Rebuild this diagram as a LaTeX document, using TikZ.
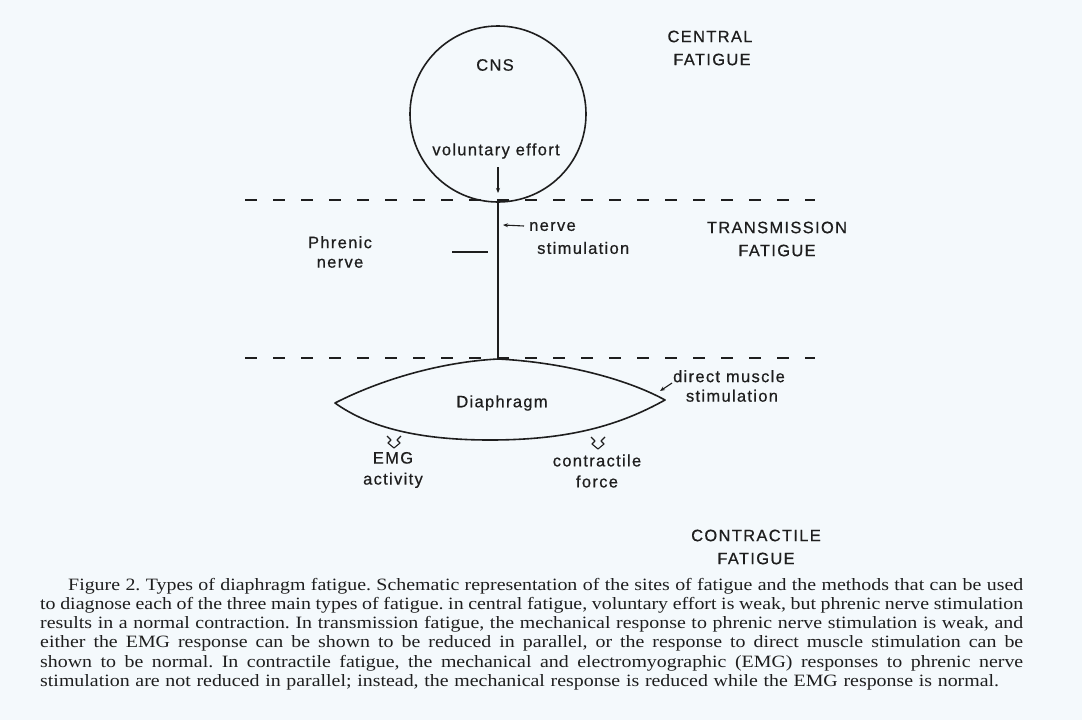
\documentclass[tikz,border=0pt]{standalone}
\usepackage{fontspec}
\setmainfont{Liberation Serif}[FakeStretch=1.15]
\newfontfamily\labfont{Liberation Sans}[LetterSpace=8,FakeBold=0.6]
\usetikzlibrary{arrows.meta}
\definecolor{paper}{HTML}{F4F9FC}
\definecolor{ink}{HTML}{1E1E1E}
\begin{document}
\begin{tikzpicture}[x=1pt,y=-1pt,
  lab/.style={font=\labfont\fontsize{16.5}{23}\selectfont, text=ink, align=center, inner sep=0pt},
  solidline/.style={draw=ink, line width=1.6pt},
  dashline/.style={draw=ink, line width=1.1pt, dash pattern=on 12pt off 16pt},
  smallarrow/.style={draw=ink, line width=1.1pt, -{Stealth[length=5pt,width=4pt]}},
  leader/.style={draw=ink, line width=1.1pt},
  hollow/.style={draw=ink, line width=1.1pt, line join=round}
]
\useasboundingbox (0,0) rectangle (1082,720);
\fill[paper] (0,0) rectangle (1082,720);

% CNS circle
\node[solidline, circle, minimum size=176pt, inner sep=0pt] (cns) at (498,114) {};
\node[lab] (cnslab) at (495,65) {CNS};
\node[lab] (vol) at (496,151) {voluntary effort};
\coordinate (volA) at (498,167);
\coordinate (volB) at (498,193);
\draw[smallarrow] (volA) -- (volB);

% dashed level lines
\coordinate (d1a) at (245,200); \coordinate (d1b) at (815,200);
\coordinate (d2a) at (245,358); \coordinate (d2b) at (815,358);
\draw[dashline] (d1a) -- (d1b);
\draw[dashline] (d2a) -- (d2b);

% diaphragm
\coordinate (dL) at (335,403);
\coordinate (dT) at (498,359);
\coordinate (dR) at (665,400);
\coordinate (dB) at (490,440);
\draw[solidline, line join=round] (dL) .. controls (380,380) and (440,362) .. (dT)
  .. controls (560,362) and (625,378) .. (dR)
  .. controls (620,425) and (570,440) .. (dB)
  .. controls (420,440) and (370,428) .. (dL) -- cycle;
\node[lab] (diaph) at (502,403) {Diaphragm};

% phrenic nerve
\draw[solidline] (cns.south) -- (dT);
\node[lab, font=\labfont\fontsize{16.5}{19.5}\selectfont] (phr) at (340,252) {Phrenic\\nerve};
\coordinate (phrA) at (452,252); \coordinate (phrB) at (488,252);
\draw[leader] (phrA) -- (phrB);
\node[lab, align=left, anchor=west] (nstim) at (529,238) {nerve\\\hspace*{8pt}stimulation};
\coordinate (nsA) at (524,226); \coordinate (nsB) at (503,225);
\draw[smallarrow] (nsA) -- (nsB);

% direct muscle stimulation
\node[lab, font=\labfont\fontsize{16.5}{19.5}\selectfont] (dms) at (729,386) {direct muscle\\\hspace*{6pt}stimulation};
\coordinate (dmA) at (672,383); \coordinate (dmB) at (660,391);
\draw[smallarrow] (dmA) -- (dmB);

% outputs
\node[lab, font=\labfont\fontsize{16.5}{21}\selectfont] (emg) at (393,470) {EMG\\activity};
\node[lab, font=\labfont\fontsize{16.5}{21}\selectfont] (force) at (597,471) {contractile\\force};
\begin{scope}[shift={(394,441)}]
  \draw[hollow] (-7,-5) -- (-3,-1) -- (-6,2) -- (0,7) -- (6,2) -- (3,-1) -- (7,-5);
\end{scope}
\begin{scope}[shift={(598,442)}]
  \draw[hollow] (-7,-5) -- (-3,-1) -- (-6,2) -- (0,7) -- (6,2) -- (3,-1) -- (7,-5);
\end{scope}

% fatigue labels
\node[lab] (cf) at (710,48) {CENTRAL\\\hspace*{4pt}FATIGUE};
\node[lab] (tf) at (777,239) {TRANSMISSION\\FATIGUE};
\node[lab] (kf) at (756,547) {CONTRACTILE\\FATIGUE};

% caption
\node[anchor=north west, text width=983pt, align=justify, inner sep=0pt, text=ink,
      font=\fontsize{17.3}{19.2}\selectfont\frenchspacing] (cap) at (40,578) {%
\hyphenpenalty=10000\spaceskip=0.33em plus 0.25em minus 0.12em
\hspace*{28pt}Figure 2. Types of diaphragm fatigue. Schematic representation of the sites of fatigue and the methods that can be used\linebreak
to diagnose each of the three main types of fatigue. in central fatigue, voluntary effort is weak, but phrenic nerve stimulation\linebreak
results in a normal contraction. In transmission fatigue, the mechanical response to phrenic nerve stimulation is weak, and\linebreak
either the EMG response can be shown to be reduced in parallel, or the response to direct muscle stimulation can be\linebreak
shown to be normal. In contractile fatigue, the mechanical and electromyographic (EMG) responses to phrenic nerve\linebreak
stimulation are not reduced in parallel; instead, the mechanical response is reduced while the EMG response is normal.};
\end{tikzpicture}
\end{document}
